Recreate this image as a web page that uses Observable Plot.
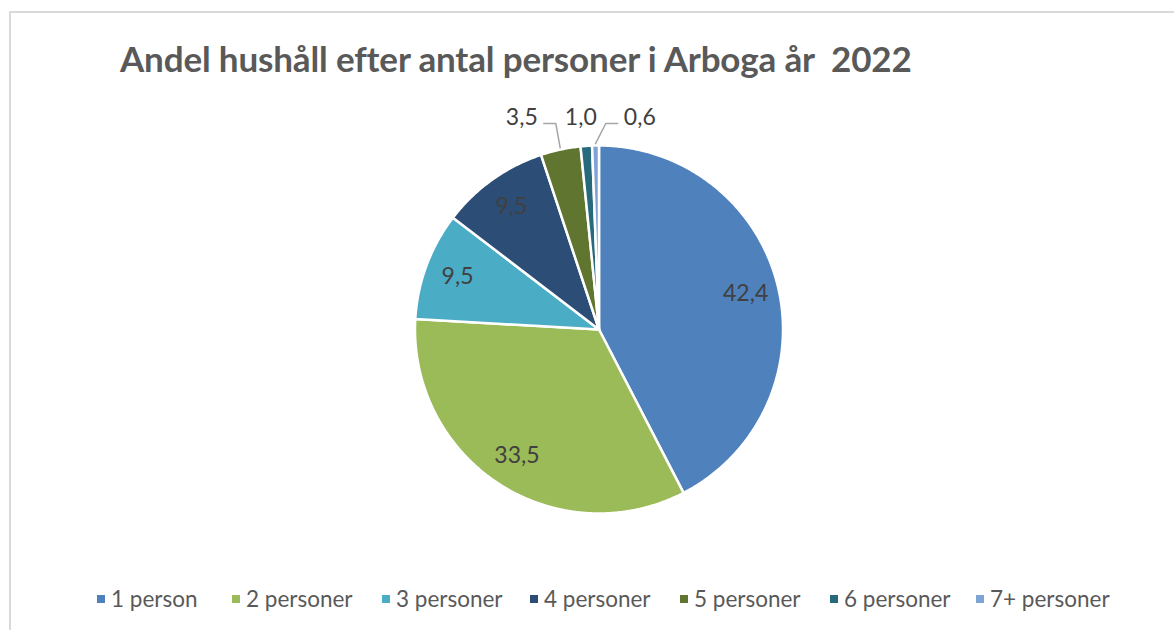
<!DOCTYPE html>
<html>
<head>
<meta charset="utf-8">
<script src="https://cdn.jsdelivr.net/npm/d3@7"></script>
<script src="https://cdn.jsdelivr.net/npm/@observablehq/plot@0.6"></script>
<style>
  html, body { margin: 0; padding: 0; background: #fff; }
  #wrap { position: relative; width: 1174px; height: 630px; overflow: hidden; font-family: Lato, "Open Sans", sans-serif; }
  #frame { position: absolute; left: 9px; top: 11px; right: -5px; bottom: -5px; border-left: 2px solid #d9d9d9; border-top: 2px solid #d9d9d9; }
  #title { position: absolute; left: 120px; top: 37px; font-weight: bold; font-size: 35px; color: #595959; white-space: pre; letter-spacing: -0.15px; }
  #chart { position: absolute; left: 0; top: 100px; }
  #legend { position: absolute; left: 0; top: 585px; width: 1174px; height: 30px; font-size: 22.5px; color: #595959; }
  .li { position: absolute; top: 0; white-space: nowrap; }
  .sw { display: inline-block; width: 8px; height: 8px; margin-right: 6px; vertical-align: 4px; }
</style>
</head>
<body>
<div id="wrap">
  <div id="frame"></div>
  <div id="title"></div>
  <div id="chart"></div>
  <div id="legend"></div>
</div>
<script>
// ---- Data ----
const titleText = "Andel hushåll efter antal personer i Arboga år  2022";
const categories = ["1 person", "2 personer", "3 personer", "4 personer", "5 personer", "6 personer", "7+ personer"];
const values = [42.4, 33.5, 9.5, 9.5, 3.5, 1.0, 0.6];
const colors = ["#4F81BD", "#9BBB59", "#4BACC6", "#2C4D75", "#5F7530", "#276A7C", "#7EA3D5"];
const labelTexts = ["42,4", "33,5", "9,5", "9,5", "3,5", "1,0", "0,6"];
const legendX = [97, 232, 382, 530, 680, 830, 976];

// ---- Layout ----
const W = 1174, H = 470;
const cx = 598.5, cy = 229, R = 184;
const insideThreshold = 5;

document.getElementById("title").textContent = titleText;

// ---- Slices ----
const total = d3.sum(values);
const pie = [];
let acc = 0;
categories.forEach((c, i) => {
  const a0 = acc / total * 2 * Math.PI;
  acc += values[i];
  const a1 = acc / total * 2 * Math.PI;
  pie.push({cat: c, value: values[i], label: labelTexts[i], a0, a1, mid: (a0 + a1) / 2});
});

const pts = [];
for (const s of pie) {
  pts.push({cat: s.cat, x: 0, y: 0});
  const n = Math.max(2, Math.ceil((s.a1 - s.a0) / (Math.PI / 360)));
  for (let k = 0; k <= n; k++) {
    const a = s.a0 + (s.a1 - s.a0) * k / n;
    pts.push({cat: s.cat, x: Math.sin(a), y: Math.cos(a)});
  }
}

// inside labels
const inside = pie.filter(s => s.value >= insideThreshold).map(s => {
  const r = 0.82;
  return {label: s.label, x: r * Math.sin(s.mid), y: r * Math.cos(s.mid)};
});

// outside labels: spread around mean of anchors
const outsideSlices = pie.filter(s => s.value < insideThreshold);
const gap = 59 / R;
const meanX = d3.mean(outsideSlices, s => Math.sin(s.mid));
const outLabelY = 212 / R;
const lineY = 206 / R;
const outside = outsideSlices.map((s, i) => {
  const lx = meanX + (i - (outsideSlices.length - 1) / 2) * gap;
  return {label: s.label, x: lx, y: outLabelY, ax: Math.sin(s.mid), ay: Math.cos(s.mid)};
});
const leaders = [];
outside.forEach((o, i) => {
  if (Math.abs(o.x - o.ax) > 15 / R) {
    const dir = o.ax > o.x ? 1 : -1;
    const x0 = o.x + dir * 22 / R;
    const x1 = x0 + dir * 12 / R;
    leaders.push({id: i, x: x0, y: lineY});
    leaders.push({id: i, x: x1, y: lineY});
    leaders.push({id: i, x: o.ax * 1.01, y: o.ay * 1.01});
  }
});

const chart = Plot.plot({
  width: W,
  height: H,
  margin: 0,
  x: {domain: [-1, 1], range: [cx - R, cx + R], axis: null},
  y: {domain: [-1, 1], range: [cy + R, cy - R], axis: null},
  color: {domain: categories, range: colors},
  style: {background: "transparent", fontFamily: "Lato, 'Open Sans', sans-serif"},
  marks: [
    Plot.line(pts, {x: "x", y: "y", z: "cat", fill: "cat", stroke: "white", strokeWidth: 2.5, curve: "linear-closed", strokeLinejoin: "round"}),
    Plot.line(leaders, {x: "x", y: "y", z: "id", stroke: "#a6a6a6", strokeWidth: 1.5}),
    Plot.text(inside, {x: "x", y: "y", text: "label", fill: "#404040", fontSize: 23}),
    Plot.text(outside, {x: "x", y: "y", text: "label", fill: "#404040", fontSize: 23})
  ]
});
document.getElementById("chart").appendChild(chart);

// ---- Legend ----
const leg = document.getElementById("legend");
categories.forEach((c, i) => {
  const item = document.createElement("div");
  item.className = "li";
  item.style.left = legendX[i] + "px";
  const sw = document.createElement("span");
  sw.className = "sw";
  sw.style.background = colors[i];
  item.appendChild(sw);
  item.appendChild(document.createTextNode(c));
  leg.appendChild(item);
});
</script>
</body>
</html>
